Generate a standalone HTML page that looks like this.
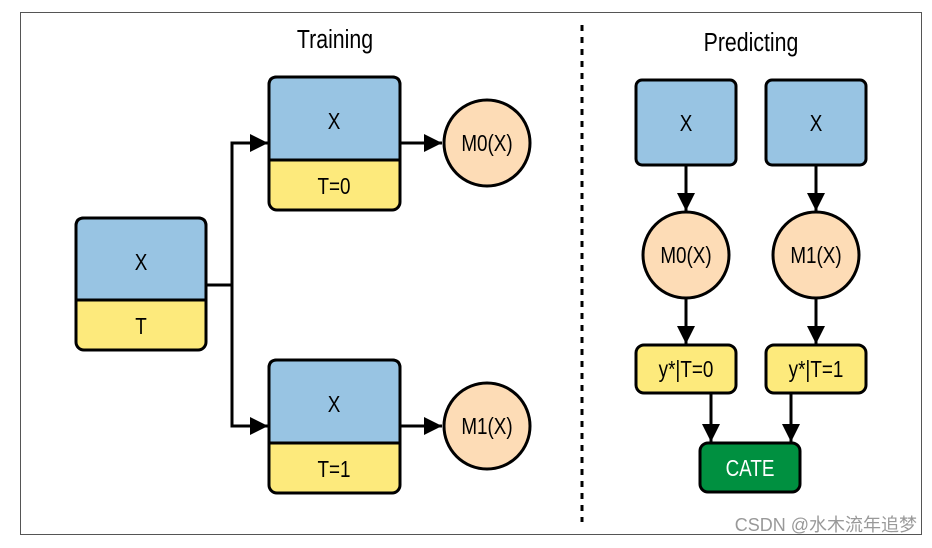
<!DOCTYPE html><html><head><style>body{margin:0;background:#fff}
.n text,text.n{transform-box:fill-box;transform-origin:center;transform:scaleX(.82)}</style></head><body>
<svg width="932" height="543" xmlns="http://www.w3.org/2000/svg" font-family="Liberation Sans, sans-serif">
<defs>
<marker id="b" viewBox="0 0 10 10" refX="10" refY="5" markerWidth="18" markerHeight="18" orient="auto" markerUnits="userSpaceOnUse"><path d="M0,0L10,5L0,10z"/></marker></defs>
<rect x="20.5" y="12.5" width="901" height="522" fill="#fff" stroke="#555" stroke-width="1"/>
<text class="n" x="335" y="48" font-size="26" text-anchor="middle">Training</text>
<text class="n" x="751" y="51" font-size="26" text-anchor="middle">Predicting</text>
<line x1="582" y1="25" x2="582" y2="522" stroke="#000" stroke-width="3" stroke-dasharray="6,6"/>
<g stroke="#000" stroke-width="3" fill="none">
<path d="M206,285H232V143H268" marker-end="url(#b)"/>
<path d="M232,285V426H268" marker-end="url(#b)"/>
<path d="M400,143H442" marker-end="url(#b)"/>
<path d="M400,426H442" marker-end="url(#b)"/>
<path d="M686,165V211" marker-end="url(#b)"/>
<path d="M816,165V211" marker-end="url(#b)"/>
<path d="M686,298V344" marker-end="url(#b)"/>
<path d="M816,298V344" marker-end="url(#b)"/>
<path d="M711,393V442" marker-end="url(#b)"/>
<path d="M791,393V442" marker-end="url(#b)"/>
</g>
<g stroke="#000" stroke-width="3">
<rect x="76" y="218" width="130" height="132" rx="8" fill="#fdea7c"/>
<path d="M84,218H198Q206,218 206,226V300H76V226Q76,218 84,218z" fill="#98c4e3"/>
<rect x="269" y="77" width="131" height="133" rx="8" fill="#fdea7c"/>
<path d="M277,77H392Q400,77 400,85V160H269V85Q269,77 277,77z" fill="#98c4e3"/>
<rect x="269" y="360" width="131" height="133" rx="8" fill="#fdea7c"/>
<path d="M277,360H392Q400,360 400,368V443H269V368Q269,360 277,360z" fill="#98c4e3"/>
<circle cx="487" cy="143" r="43" fill="#fddcb6"/>
<circle cx="487" cy="426" r="43" fill="#fddcb6"/>
<rect x="636" y="80" width="100" height="85" rx="6" fill="#98c4e3"/>
<rect x="766" y="80" width="100" height="85" rx="6" fill="#98c4e3"/>
<circle cx="686" cy="255" r="43" fill="#fddcb6"/>
<circle cx="816" cy="255" r="43" fill="#fddcb6"/>
<rect x="636" y="345" width="100" height="48" rx="8" fill="#fdea7c"/>
<rect x="766" y="345" width="100" height="48" rx="8" fill="#fdea7c"/>
<rect x="700" y="443" width="100" height="49" rx="8" fill="#009040"/>
</g>
<g class="n" font-size="23" text-anchor="middle">
<text x="141" y="270">X</text><text x="141" y="334">T</text>
<text x="334" y="129">X</text><text x="334" y="194">T=0</text>
<text x="334" y="412">X</text><text x="334" y="477">T=1</text>
<text x="487" y="151">M0(X)</text><text x="487" y="434">M1(X)</text>
<text x="686" y="131">X</text><text x="816" y="131">X</text>
<text x="686" y="263">M0(X)</text><text x="816" y="263">M1(X)</text>
<text x="686" y="377">y*|T=0</text><text x="816" y="377">y*|T=1</text>
<text x="750" y="476" fill="#fff">CATE</text>
</g>
<text x="917" y="531" font-size="18" fill="#999" text-anchor="end" font-family="Liberation Sans, Noto Sans CJK SC, sans-serif">CSDN @水木流年追梦</text>
</svg></body></html>
